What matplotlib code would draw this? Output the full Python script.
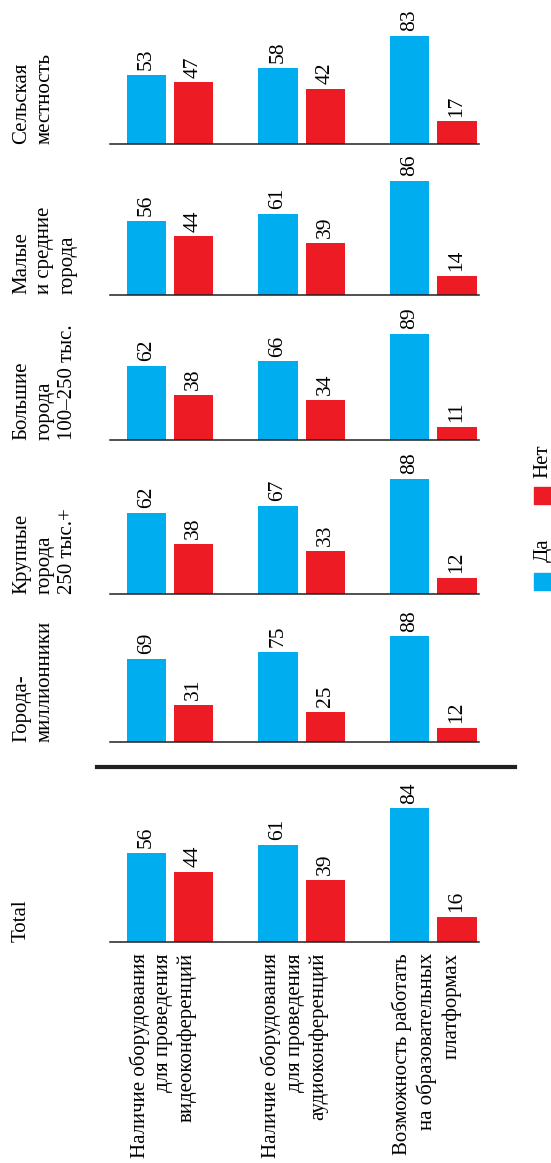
import numpy as np
import matplotlib
matplotlib.use('Agg')
import matplotlib.pyplot as plt
from matplotlib.patches import Rectangle
from matplotlib.lines import Line2D

plt.rcParams['font.family'] = ['Liberation Serif', 'DejaVu Serif']

# data
categories = ['Наличие оборудования\nдля проведения\nвидеоконференций',
              'Наличие оборудования\nдля проведения\nаудиоконференций',
              'Возможность работать\nна образовательных\nплатформах']
groups = ['Сельская\nместность', 'Малые\nи средние\nгорода',
          'Большие\nгорода\n100–250 тыс.', 'Крупные\nгорода\n250 тыс.+',
          'Города-\nмиллионники', 'Total']
yes = [[53, 58, 83], [56, 61, 86], [62, 66, 89], [62, 67, 88], [69, 75, 88], [56, 61, 84]]
no = [[47, 42, 17], [44, 39, 14], [38, 34, 11], [38, 33, 12], [31, 25, 12], [44, 39, 16]]
legend_labels = ['Да', 'Нет']

blue = '#00AEEF'
red = '#ED1C24'

W, H = 551, 1163
fig = plt.figure(figsize=(W / 100, H / 100), dpi=100)

def fx(x):
    return x / W

def fy(y):
    return 1 - y / H

# layout (pixels from top): baseline of each panel and px per unit
baselines = [143.5, 294.5, 440, 594, 742, 942]
scales = [1.30, 1.32, 1.19, 1.31, 1.20, 1.59]
x_left, x_right = 110, 478.6

x = np.arange(3)
w = 0.298

for i, g in enumerate(groups):
    base, k = baselines[i], scales[i]
    ax = fig.add_axes([fx(x_left), fy(base), fx(x_right) - fx(x_left), 100 * k / H])
    ax.set_xlim(-0.454, 2.343)
    ax.set_ylim(0, 100)
    ax.axis('off')
    b1 = ax.bar(x - 0.179, yes[i], w, color=blue, clip_on=False)
    b2 = ax.bar(x + 0.179, no[i], w, color=red, clip_on=False)
    for bars, vals in ((b1, yes[i]), (b2, no[i])):
        for r, v in zip(bars, vals):
            ax.annotate(str(v), (r.get_x() + r.get_width() / 2, v), xytext=(0, 3.5),
                        textcoords='offset points', rotation=90, ha='center', va='bottom',
                        fontsize=15.5, annotation_clip=False)
    ax.axhline(0, color='#231F20', lw=1.1, clip_on=False)
    fig.text(fx(12), fy(base), g, rotation=90, ha='left', va='bottom',
             multialignment='left', fontsize=15, linespacing=1.3)
    if i == len(groups) - 1:
        for j, c in enumerate(categories):
            ax.annotate(c, (j, 0), xytext=(-5, -8), textcoords='offset points',
                        rotation=90, ha='center', va='top', multialignment='right',
                        fontsize=15, linespacing=1.3, annotation_clip=False)

# separator
fig.add_artist(Line2D([fx(97), fx(515)], [fy(767), fy(767)], color='#231F20', lw=3))

# legend
for lab, col, sq_top, txt_bottom in ((legend_labels[0], blue, 573, 562),
                                     (legend_labels[1], red, 487, 478)):
    fig.add_artist(Rectangle((fx(534), fy(sq_top + 17)), 17 / W, 17 / H,
                             transform=fig.transFigure, color=col))
    fig.text(fx(543), fy(txt_bottom), lab, rotation=90, ha='center', va='bottom', fontsize=15)

fig.savefig('out.png', dpi=100)
